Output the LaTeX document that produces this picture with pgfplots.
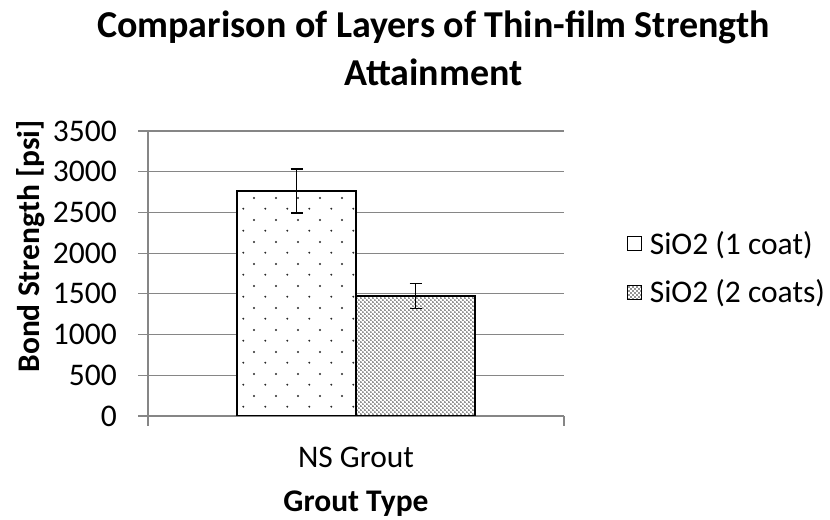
\documentclass[border=0pt]{standalone}
\usepackage{fontspec}
\setmainfont{Carlito}
\usepackage{pgfplots}
\pgfplotsset{compat=1.18}
\usetikzlibrary{patterns}
\pgfdeclarepatternformonly{sparsedots}{\pgfqpoint{0bp}{0bp}}{\pgfqpoint{21.6bp}{21.6bp}}{\pgfqpoint{21.6bp}{21.6bp}}{%
  \pgfpathcircle{\pgfqpoint{5.4bp}{5.4bp}}{1.1bp}%
  \pgfpathcircle{\pgfqpoint{16.2bp}{16.2bp}}{1.1bp}%
  \pgfusepath{fill}}
\pgfdeclarepatternformonly{densedots}{\pgfqpoint{0bp}{0bp}}{\pgfqpoint{4.4bp}{4.4bp}}{\pgfqpoint{4.4bp}{4.4bp}}{%
  \pgfpathcircle{\pgfqpoint{1.1bp}{1.1bp}}{0.9bp}%
  \pgfpathcircle{\pgfqpoint{3.3bp}{3.3bp}}{0.9bp}%
  \pgfusepath{fill}}
\definecolor{gridgray}{RGB}{134,134,134}
\definecolor{dotgray}{RGB}{40,40,40}
\begin{document}
\begin{tikzpicture}[x=1bp,y=1bp]
\useasboundingbox (0,0) rectangle (830,520);
\begin{axis}[
  at={(148bp,104bp)}, anchor=south west,
  scale only axis, width=416bp, height=285bp,
  ybar=0pt, bar width=119bp,
  xmin=-1, xmax=1, ymin=0, ymax=3500,
  ytick={0,500,...,3500},
  xtick={-1,1}, xticklabels={,},
  axis x line*=bottom, axis y line*=left,
  axis line style={gridgray, line width=1.2bp, -},
  tick style={gridgray, line width=1.2bp},
  major tick length=10bp, tick align=outside,
  ymajorgrids, grid style={gridgray, line width=1.2bp},
  /pgf/number format/assume math mode=true,
  /pgf/number format/1000 sep={},
  ticklabel style={font=\fontsize{31.5bp}{36bp}\selectfont},
  yticklabel style={inner sep=0pt, xshift=-21bp},
  legend style={at={(1.151,0.52)}, anchor=west, draw=none, fill=none,
    font=\fontsize{31.5bp}{36bp}\selectfont, inner sep=0pt, row sep=20bp,
    /tikz/every odd column/.append style={column sep=6bp}},
  legend cell align=left,
  legend image code/.code={\draw[#1, draw=black, line width=0.8bp] (0bp,-7bp) rectangle (14bp,7bp);},
  error bars/error bar style={black, line width=1.5bp},
  error bars/error mark options={rotate=90, mark size=6bp, line width=1.5bp, black},
]
\addplot[draw=black, line width=1.5bp, fill=white, postaction={pattern=sparsedots, pattern color=dotgray},
  error bars/.cd, y dir=both, y explicit]
  coordinates {(0,2765) +- (0,270)};
\addplot[draw=black, line width=1.5bp, fill=white, postaction={pattern=densedots, pattern color=dotgray},
  error bars/.cd, y dir=both, y explicit]
  coordinates {(0,1475) +- (0,155)};
\legend{SiO2 (1 coat), SiO2 (2 coats)}
\end{axis}
\node[font=\fontsize{38bp}{44bp}\selectfont\bfseries, anchor=base] at (433.5,482) {Comparison of Layers of Thin-film Strength};
\node[font=\fontsize{38bp}{44bp}\selectfont\bfseries, anchor=base] at (433.5,434) {Attainment};
\node[font=\fontsize{31.5bp}{36bp}\selectfont, anchor=base] at (356,52) {NS Grout};
\node[font=\fontsize{31.5bp}{36bp}\selectfont\bfseries, anchor=base] at (356,8) {Grout Type};
\node[font=\fontsize{31.5bp}{36bp}\selectfont\bfseries, rotate=90] at (31,273.5) {Bond Strength [psi]};
\end{tikzpicture}
\end{document}
